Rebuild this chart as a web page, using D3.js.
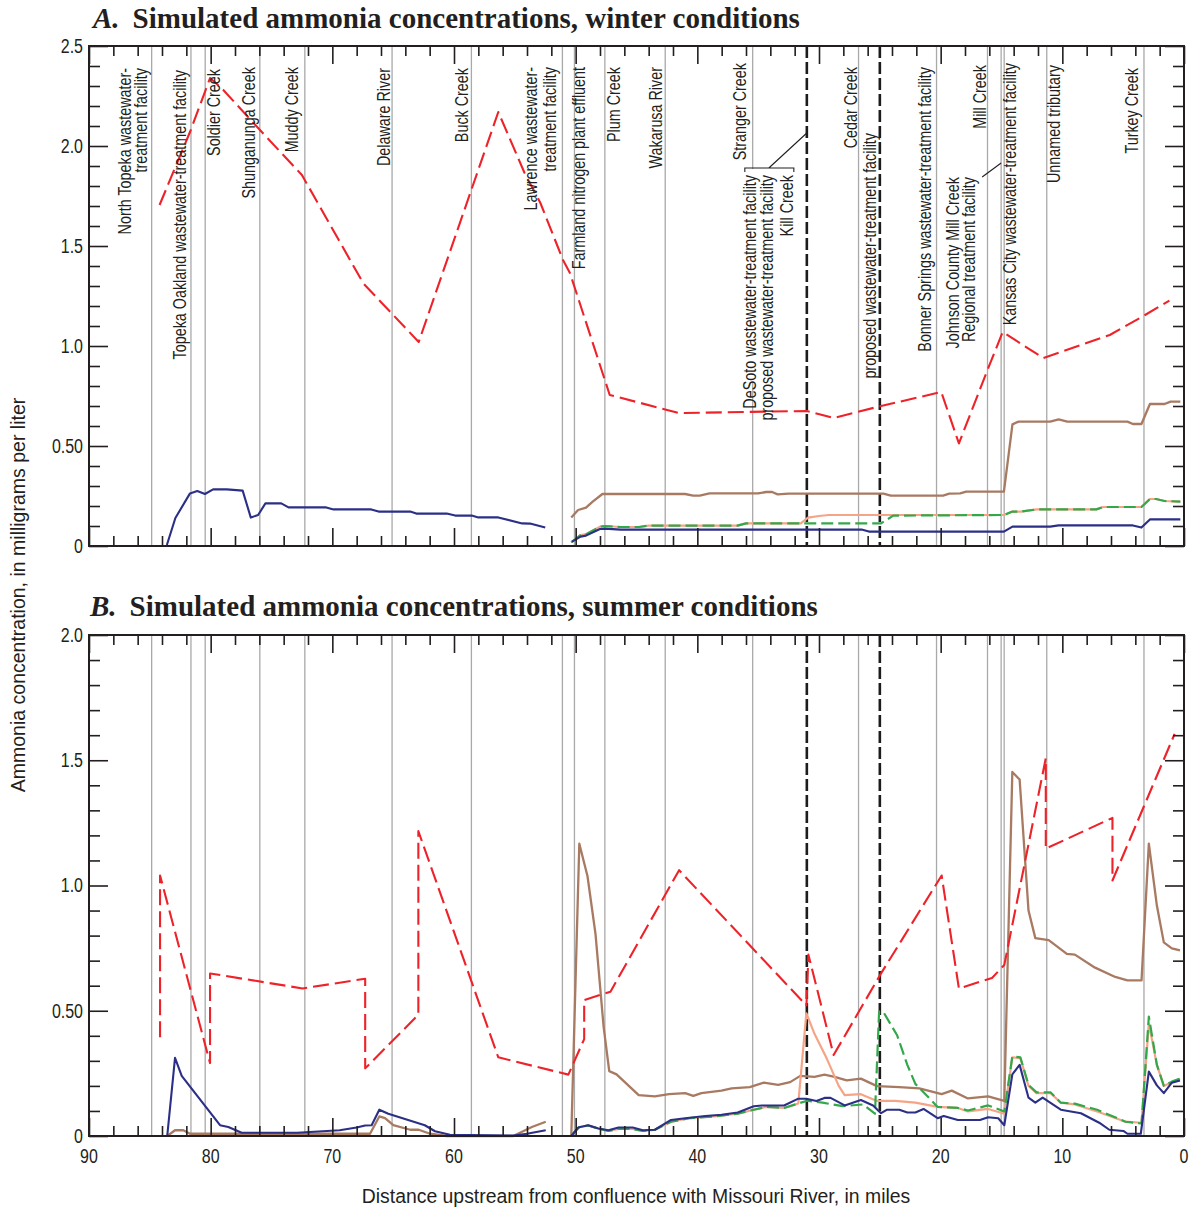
<!DOCTYPE html>
<html>
<head>
<meta charset="utf-8">
<script src="https://cdn.jsdelivr.net/npm/d3@7"></script>
<style>
  body { margin: 0; background: #fff; }
</style>
</head>
<body>
<div id="chart"></div>
<script>
// river miles of tributaries / facilities (vertical gray lines)
const tributaryMiles = [84.85, 81.62, 80.45, 75.96, 72.26, 65.09, 58.57, 51.09, 50.10, 47.60,
                        42.64, 35.45, 26.75, 20.34, 16.15, 15.03, 14.78, 11.28, 3.29];
const proposedMiles = [31, 25];

const xTicks = [90, 80, 70, 60, 50, 40, 30, 20, 10, 0];
const yTicksA = [0, 0.5, 1.0, 1.5, 2.0, 2.5];
const yLabelsA = ["0", "0.50", "1.0", "1.5", "2.0", "2.5"];
const yTicksB = [0, 0.5, 1.0, 1.5, 2.0];
const yLabelsB = ["0", "0.50", "1.0", "1.5", "2.0"];

// label text, river mile it belongs to
const siteLabels = [
  [["North Topeka wastewater-", "treatment facility"], 84.85],
  [["Topeka Oakland wastewater-treatment facility"], 81.62],
  [["Soldier Creek"], 80.45],
  [["Shunganunga Creek"], 75.96],
  [["Muddy Creek"], 72.26],
  [["Delaware River"], 65.09],
  [["Buck Creek"], 58.57],
  [["Lawrence wastewater-", "treatment facility"], 51.09],
  [["Farmland nitrogen plant effluent"], 50.10],
  [["Plum Creek"], 47.60],
  [["Wakarusa River"], 42.64],
  [["Stranger Creek"], 35.45],
  [["DeSoto wastewater-treatment facility", "proposed wastewater-treatment facility", "Kill Creek"], 31],
  [["Cedar Creek"], 26.75],
  [["proposed wastewater-treatment facility"], 25],
  [["Bonner Springs wastewater-treatment facility"], 20.34],
  [["Johnson County Mill Creek", "Regional treatment facility"], 15.03],
  [["Mill Creek"], 16.15],
  [["Kansas City wastewater-treatment facility"], 14.78],
  [["Unnamed tributary"], 11.28],
  [["Turkey Creek"], 3.29]
];
// label placement: baseline offsets from the line (px) per text line, top y
const labelLayout = [
  [[-21, -5], 68], [[-5], 70], [[15], 69], [[-5], 67], [[-7], 67], [[-2], 68], [[-3], 68],
  [[-25, -6], 67], [[11], 67], [[15], 67], [[-3], 67], [[-7], 63],
  [[-51, -34, -14], 175], [[-2], 67], [[-4], 133], [[-6], 67], [[-42, -26], 177],
  [[-2], 65], [[12], 63], [[13], 65], [[-6], 68]
];

// ---- A. winter ----
const winterRed = [[84.2,1.705],[81.7,2.07],[80.05,2.34],[78.96,2.28],[75.95,2.08],[72.5,1.855],[67.45,1.313],
  [62.9,1.02],[56.36,2.17],[54.2,1.865],[52.9,1.715],[51.04,1.43],[50.47,1.365],[47.2,0.755],[41.5,0.665],
  [31.0,0.675],[28.8,0.64],[24.9,0.70],[19.95,0.77],[18.5,0.513],[16.1,0.888],[14.9,1.07],[11.57,0.94],
  [6.1,1.055],[3.2,1.155],[1.2,1.227]];
const winterNavy = [[83.6,0.005],[82.9,0.14],[81.7,0.263],[81.1,0.275],[80.47,0.26],[79.8,0.283],[78.68,0.283],
  [77.37,0.277],[76.7,0.142],[76.1,0.155],[75.5,0.213],[74.2,0.213],[73.6,0.193],[70.5,0.193],[69.9,0.183],
  [66.8,0.183],[66.2,0.172],[63.6,0.172],[63.1,0.162],[60.6,0.162],[59.9,0.152],[58.55,0.152],[58.0,0.143],
  [56.36,0.143],[54.4,0.113],[53.75,0.112],[52.5,0.092], null,
  [50.3,0.022],[49.6,0.047],[49.15,0.052],[48.0,0.085],[47.6,0.087],[46.3,0.082],[26.5,0.082],[25.9,0.072],
  [14.8,0.072],[14.1,0.097],[11.0,0.097],[10.3,0.103],[4.2,0.103],[3.5,0.092],[2.8,0.133],[0.3,0.133]];
const winterBrown = [[50.36,0.142],[49.8,0.18],[49.15,0.192],[48.6,0.222],[47.8,0.26],[41.0,0.26],[40.35,0.252],
  [39.8,0.252],[39.0,0.263],[35.0,0.263],[34.35,0.27],[33.85,0.27],[33.4,0.258],[32.5,0.262],[24.7,0.262],
  [24.1,0.252],[19.8,0.252],[19.3,0.262],[18.4,0.263],[17.9,0.272],[14.8,0.272],[14.1,0.608],[13.6,0.622],
  [11.0,0.622],[10.3,0.633],[9.6,0.622],[4.65,0.622],[4.2,0.61],[3.5,0.61],[2.8,0.71],[1.6,0.71],[1.1,0.722],[0.3,0.722]];
const winterSalmon = [[50.36,0.018],[49.6,0.055],[49.1,0.06],[48.0,0.097],[47.6,0.1],[46.3,0.095],[44.8,0.095],
  [44.0,0.102],[36.7,0.102],[36.0,0.113],[31.5,0.113],[30.9,0.142],[30.0,0.15],[29.2,0.155],[14.8,0.155],
  [14.1,0.172],[13.4,0.172],[12.1,0.183],[7.2,0.183],[6.65,0.195],[3.5,0.195],[2.8,0.235],[2.3,0.235],[1.6,0.225],[0.3,0.222]];
const winterGreen = [[50.36,0.018],[49.6,0.055],[49.1,0.06],[48.0,0.097],[47.6,0.1],[46.3,0.095],[44.8,0.095],
  [44.0,0.102],[36.7,0.102],[36.0,0.113],[24.9,0.113],[23.9,0.152],[14.8,0.155],[14.1,0.172],[13.4,0.172],
  [12.1,0.183],[7.2,0.183],[6.65,0.195],[3.5,0.195],[2.8,0.235],[2.3,0.235],[1.6,0.225],[0.3,0.222]];

// ---- B. summer ----
const summerRed = [[84.16,0.394],[84.16,1.04],[80.05,0.291],[80.05,0.649],[72.44,0.589],[67.3,0.628],[67.3,0.27],
  [62.93,0.484],[62.93,1.217],[56.36,0.314],[50.6,0.245],[49.3,0.387],[49.3,0.543],[47.14,0.576],[41.5,1.061],
  [31.03,0.521],[30.87,0.724],[28.8,0.323],[24.9,0.649],[19.92,1.04],[18.5,0.589],[15.78,0.631],[14.77,0.683],
  [11.36,1.508],[11.36,1.147],[5.88,1.27],[5.88,1.02],[0.77,1.605]];
const summerBrown = [[83.57,0],[82.93,0.023],[82.25,0.023],[81.7,0.009],[66.9,0.009],[66.14,0.078],[65.67,0.071],
  [64.99,0.043],[63.6,0.025],[62.9,0.025],[61.97,0.009],[60.6,0],[55.13,0],[53.6,0.036],[52.46,0.057], null,
  [50.36,0],[49.7,1.167],[49.03,1.038],[48.37,0.807],[47.7,0.435],[47.24,0.259],[46.64,0.246],[44.82,0.163],
  [43.49,0.158],[42.33,0.167],[41.0,0.171],[40.33,0.16],[39.67,0.171],[38.01,0.181],[37.18,0.19],[35.69,0.195],
  [34.53,0.213],[33.36,0.204],[32.37,0.215],[31.54,0.24],[30.37,0.236],[29.55,0.245],[28.72,0.236],[27.72,0.222],
  [26.56,0.229],[25.23,0.199],[23.4,0.195],[21.75,0.19],[19.92,0.167],[19.09,0.181],[17.76,0.15],[16.1,0.158],
  [14.77,0.14],[14.11,1.453],[13.51,1.423],[12.78,0.9],[12.22,0.79],[11.12,0.782],[9.63,0.727],[8.97,0.724],
  [7.31,0.672],[5.65,0.635],[4.65,0.621],[3.49,0.621],[2.89,1.167],[2.23,0.92],[1.66,0.773],[1.0,0.749],[0.33,0.741]];
const summerSalmon = [[50.36,0.002],[49.7,0.036],[48.97,0.042],[48.14,0.03],[47.31,0.02],[46.48,0.028],[45.31,0.028],
  [44.48,0.02],[43.49,0.025],[42.16,0.057],[40.67,0.071],[38.67,0.078],[36.68,0.089],[35.36,0.105],[34.36,0.116],
  [32.87,0.112],[31.7,0.13],[31.04,0.49],[30.37,0.408],[29.38,0.311],[28.38,0.2],[27.89,0.163],[26.56,0.167],
  [25.23,0.14],[23.74,0.14],[22.08,0.133],[20.25,0.116],[18.59,0.112],[17.76,0.098],[16.1,0.108],[14.77,0.089],
  [14.11,0.314],[13.45,0.311],[12.78,0.2],[12.12,0.171],[10.96,0.171],[10.13,0.133],[8.97,0.126],[7.14,0.098],
  [4.81,0.057],[3.49,0.053],[2.89,0.449],[2.23,0.284],[1.66,0.2],[1.0,0.215],[0.33,0.229]];
const summerGreen = [[50.36,0.002],[49.7,0.036],[48.97,0.042],[48.14,0.03],[47.31,0.02],[46.48,0.028],[45.31,0.028],
  [44.48,0.02],[43.49,0.025],[42.16,0.057],[40.67,0.071],[38.67,0.078],[36.68,0.089],[35.36,0.105],[34.36,0.116],
  [32.87,0.112],[31.7,0.13],[31.04,0.14],[30.87,0.14],[29.71,0.133],[28.05,0.119],[26.39,0.126],[25.4,0.089],
  [25.06,0.497],[24.73,0.497],[23.57,0.401],[22.74,0.284],[22.08,0.208],[21.25,0.167],[20.25,0.116],[18.59,0.112],
  [17.76,0.102],[16.1,0.122],[14.77,0.098],[14.11,0.318],[13.45,0.314],[12.78,0.204],[12.12,0.174],[10.96,0.174],
  [10.13,0.133],[8.97,0.129],[7.14,0.105],[4.81,0.057],[3.49,0.05],[2.89,0.477],[2.23,0.284],[1.66,0.2],[1.0,0.217],[0.33,0.229]];
const summerNavy = [[83.57,0],[82.93,0.312],[82.38,0.24],[79.23,0.043],[78.55,0.036],[77.45,0.013],[72.9,0.013],
  [69.4,0.023],[68.0,0.034],[67.3,0.042],[66.77,0.043],[66.14,0.105],[65.4,0.089],[62.4,0.043],[61.56,0.019],
  [60.33,0.005],[55.1,0.002],[54.0,0.009],[52.46,0.023], null,
  [50.36,0],[49.79,0.034],[48.97,0.043],[48.14,0.03],[47.31,0.023],[46.48,0.034],[45.31,0.034],[44.48,0.023],
  [43.49,0.025],[42.16,0.064],[41.0,0.071],[39.34,0.08],[38.01,0.085],[36.68,0.094],[35.36,0.119],[34.69,0.122],
  [32.87,0.122],[31.7,0.149],[31.04,0.149],[30.21,0.14],[29.55,0.152],[29.05,0.152],[27.89,0.122],[26.56,0.144],
  [25.56,0.122],[24.9,0.091],[24.4,0.105],[23.4,0.105],[22.74,0.094],[22.08,0.094],[21.41,0.108],[20.25,0.071],
  [19.75,0.08],[18.59,0.064],[16.77,0.064],[16.1,0.075],[15.27,0.071],[14.77,0.043],[14.11,0.246],[13.51,0.284],
  [12.78,0.153],[12.22,0.133],[11.62,0.153],[10.13,0.105],[8.47,0.091],[6.97,0.053],[6.14,0.025],[4.98,0.02],
  [4.65,0.009],[3.55,0.009],[2.89,0.257],[2.23,0.202],[1.66,0.171],[1.0,0.213],[0.33,0.222]];

const W = 1193, H = 1211;
const svg = d3.select("#chart").append("svg").attr("width", W).attr("height", H);

const x = d3.scaleLinear().domain([90, 0]).range([89, 1184]);
const yA = d3.scaleLinear().domain([0, 2.5]).range([546, 46]);
const yB = d3.scaleLinear().domain([0, 2.0]).range([1136, 635]);

const sansFont = "'Liberation Sans', Arial, sans-serif";
const NARROW = 0.82; // horizontal squeeze to mimic a condensed face

// condensed-looking text: squeeze along the text direction
function narrowText(parent, tx, ty, rot, anchor, size, str, dy) {
  return parent.append("text")
    .attr("transform", `translate(${tx},${ty}) rotate(${rot}) scale(${NARROW},1)`)
    .attr("text-anchor", anchor).attr("dy", dy || null)
    .attr("font-family", sansFont).attr("font-size", size).attr("fill", "#231f20")
    .text(str);
}

const seriesStyles = {
  brown:  {stroke: "#a87a62", width: 2.3, dash: null},
  salmon: {stroke: "#f6a487", width: 2.2, dash: null},
  green:  {stroke: "#33a84b", width: 2.2, dash: "12,5"},
  navy:   {stroke: "#2b2f86", width: 2.1, dash: null},
  red:    {stroke: "#ee2229", width: 2.1, dash: "16,6"}
};

function drawPanel(y, yTicks, yLabels, series, showXLabels, yMinorMax) {
  const g = svg.append("g");
  const [y0, y1] = y.range();

  // tributary lines
  tributaryMiles.forEach(m => {
    g.append("line").attr("x1", x(m)).attr("x2", x(m)).attr("y1", y1).attr("y2", y0)
      .attr("stroke", "#a9a9a9").attr("stroke-width", 1.3);
  });
  proposedMiles.forEach(m => {
    g.append("line").attr("x1", x(m)).attr("x2", x(m)).attr("y1", y1).attr("y2", y0)
      .attr("stroke", "#1c1c1c").attr("stroke-width", 2.6).attr("stroke-dasharray", "12,4");
  });

  const line = d3.line().defined(d => d).x(d => x(d[0])).y(d => y(d[1]));
  series.forEach(([data, key]) => {
    const s = seriesStyles[key];
    g.append("path").datum(data).attr("d", line)
      .attr("fill", "none").attr("stroke", s.stroke).attr("stroke-width", s.width)
      .attr("stroke-dasharray", s.dash).attr("stroke-linejoin", "round");
  });

  // frame
  g.append("rect").attr("x", 89).attr("y", y1).attr("width", 1184 - 89).attr("height", y0 - y1)
    .attr("fill", "none").attr("stroke", "#231f20").attr("stroke-width", 2);

  const minorX = d3.range(0, 91, 2).filter(v => v % 10 !== 0);
  const minorY = d3.range(0, yMinorMax + 0.001, 0.1).map(v => +v.toFixed(1))
    .filter(v => Math.abs(v * 2 - Math.round(v * 2)) > 0.01);

  const tickStyle = sel => {
    sel.select(".domain").remove();
    sel.selectAll("line").attr("stroke", "#231f20").attr("stroke-width", 1.6);
  };

  g.append("g").attr("transform", `translate(0,${y0})`)
    .call(d3.axisBottom(x).tickValues(minorX).tickSize(-10).tickFormat("")).call(tickStyle);
  g.append("g").attr("transform", `translate(0,${y1})`)
    .call(d3.axisTop(x).tickValues(minorX).tickSize(-10).tickFormat("")).call(tickStyle);
  g.append("g").attr("transform", `translate(0,${y1})`)
    .call(d3.axisTop(x).tickValues(xTicks).tickSize(-18).tickFormat("")).call(tickStyle);
  g.append("g").attr("transform", `translate(0,${y0})`)
    .call(d3.axisBottom(x).tickValues(xTicks).tickSize(-18).tickFormat("")).call(tickStyle);

  g.append("g").attr("transform", "translate(89,0)")
    .call(d3.axisLeft(y).tickValues(minorY).tickSize(-11).tickFormat("")).call(tickStyle);
  g.append("g").attr("transform", "translate(1184,0)")
    .call(d3.axisRight(y).tickValues(minorY).tickSize(-11).tickFormat("")).call(tickStyle);
  g.append("g").attr("transform", "translate(1184,0)")
    .call(d3.axisRight(y).tickValues(yTicks).tickSize(-19).tickFormat("")).call(tickStyle);
  g.append("g").attr("transform", "translate(89,0)")
    .call(d3.axisLeft(y).tickValues(yTicks).tickSize(-19).tickFormat("")).call(tickStyle);

  // tick labels
  yTicks.forEach((v, i) => narrowText(g, 83, y(v), 0, "end", 19.5, yLabels[i], "0.35em"));
  if (showXLabels) {
    xTicks.forEach(v => narrowText(g, x(v), y0 + 13, 0, "middle", 19.5, String(v), "0.71em"));
  }
  return g;
}

drawPanel(yA, yTicksA, yLabelsA,
  [[winterBrown, "brown"], [winterSalmon, "salmon"], [winterGreen, "green"], [winterNavy, "navy"], [winterRed, "red"]],
  false, 2.5);
drawPanel(yB, yTicksB, yLabelsB,
  [[summerBrown, "brown"], [summerSalmon, "salmon"], [summerGreen, "green"], [summerNavy, "navy"], [summerRed, "red"]],
  true, 2.0);

// Stranger Creek line is interrupted by the grouped labels
svg.append("rect").attr("x", x(35.45) - 3).attr("y", 169).attr("width", 6).attr("height", 213).attr("fill", "#fff");

// site labels (panel A)
const labelG = svg.append("g");
siteLabels.forEach(([lines, mile], i) => {
  const [offs, top] = labelLayout[i];
  lines.forEach((t, j) => narrowText(labelG, x(mile) + offs[j], top, -90, "end", 17.5, t));
});

// bracket for the DeSoto / proposed / Kill Creek group
const xb31 = x(31);
svg.append("path")
  .attr("d", `M${xb31 - 62},172 V168 H${xb31 - 13} V172 M${xb31 - 38},168 L${xb31},133`)
  .attr("fill", "none").attr("stroke", "#231f20").attr("stroke-width", 1.1);
// leader for Johnson County label
svg.append("line").attr("x1", x(15.03) - 19).attr("y1", 177).attr("x2", x(15.03)).attr("y2", 163)
  .attr("stroke", "#231f20").attr("stroke-width", 1.1);

// panel titles
const titleFont = "'Liberation Serif', 'Times New Roman', serif";
[["A.", "Simulated ammonia concentrations, winter conditions", 93, 28],
 ["B.", "Simulated ammonia concentrations, summer conditions", 90, 616]].forEach(([l, t, tx, ty]) => {
  const tt = svg.append("text").attr("x", tx).attr("y", ty).attr("font-family", titleFont)
    .attr("font-size", 29).attr("font-weight", "bold").attr("fill", "#231f20");
  tt.append("tspan").attr("font-style", "italic").text(l);
  tt.append("tspan").attr("dx", 13).text(t);
});

// axis titles
svg.append("text").attr("transform", "translate(25,595) rotate(-90)").attr("text-anchor", "middle")
  .attr("font-family", sansFont).attr("font-size", 19.5).attr("fill", "#231f20")
  .text("Ammonia concentration, in milligrams per liter");
svg.append("text").attr("x", 636).attr("y", 1203).attr("text-anchor", "middle")
  .attr("font-family", sansFont).attr("font-size", 19.4).attr("fill", "#231f20")
  .text("Distance upstream from confluence with Missouri River, in miles");
</script>
</body>
</html>
